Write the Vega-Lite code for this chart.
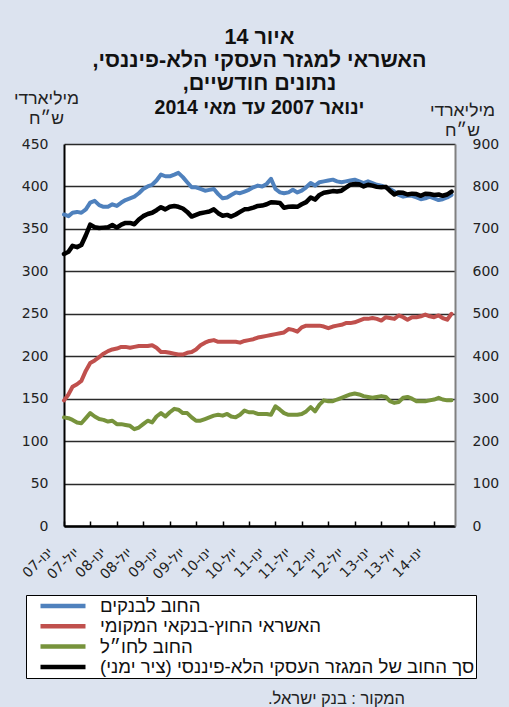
{
  "$schema": "https://vega.github.io/schema/vega-lite/v6.json",
  "width": 391,
  "height": 382,
  "autosize": {"type": "none"},
  "padding": {"left": 64, "top": 144, "right": 54, "bottom": 181},
  "background": "#dce3ef",
  "view": {"fill": "white", "stroke": null},
  "title": {
    "text": ["איור 14", "האשראי למגזר העסקי הלא-פיננסי,\u200f", "נתונים חודשיים,\u200f"],
    "subtitle": "ינואר 2007 עד מאי 2014",
    "font": "Liberation Sans",
    "fontSize": 21.5,
    "fontWeight": "bold",
    "lineHeight": 23,
    "subtitleFont": "Liberation Sans",
    "subtitleFontSize": 19.5,
    "subtitleFontWeight": "bold",
    "subtitleColor": "#111111",
    "subtitleLineHeight": 23,
    "subtitlePadding": 4,
    "offset": -28,
    "color": "#111111",
    "anchor": "middle"
  },
  "config": {
    "axis": {
      "labelFont": "DejaVu Sans",
      "labelFontSize": 14,
      "labelColor": "#222222",
      "titleFont": "Liberation Sans",
      "titleFontWeight": "normal",
      "titleFontSize": 17.5,
      "titleColor": "#222222"
    }
  },
  "data": {
    "values": [
      {"d": "2007-01-01", "b": 367, "r": 148, "g": 128, "t": 641},
      {"d": "2007-02-01", "b": 365, "r": 155, "g": 127, "t": 646},
      {"d": "2007-03-01", "b": 369, "r": 164, "g": 125, "t": 660},
      {"d": "2007-04-01", "b": 370, "r": 167, "g": 122, "t": 657},
      {"d": "2007-05-01", "b": 369, "r": 171, "g": 121, "t": 662},
      {"d": "2007-06-01", "b": 373, "r": 183, "g": 127, "t": 685},
      {"d": "2007-07-01", "b": 381, "r": 192, "g": 133, "t": 710},
      {"d": "2007-08-01", "b": 383, "r": 195, "g": 129, "t": 704},
      {"d": "2007-09-01", "b": 378, "r": 199, "g": 126, "t": 702},
      {"d": "2007-10-01", "b": 376, "r": 203, "g": 125, "t": 703},
      {"d": "2007-11-01", "b": 376, "r": 206, "g": 123, "t": 704},
      {"d": "2007-12-01", "b": 379, "r": 208, "g": 124, "t": 709},
      {"d": "2008-01-01", "b": 377, "r": 209, "g": 120, "t": 703},
      {"d": "2008-02-01", "b": 381, "r": 211, "g": 120, "t": 710},
      {"d": "2008-03-01", "b": 384, "r": 211, "g": 119, "t": 714},
      {"d": "2008-04-01", "b": 386, "r": 210, "g": 118, "t": 714},
      {"d": "2008-05-01", "b": 388, "r": 211, "g": 114, "t": 711},
      {"d": "2008-06-01", "b": 392, "r": 212, "g": 116, "t": 722},
      {"d": "2008-07-01", "b": 397, "r": 212, "g": 120, "t": 730},
      {"d": "2008-08-01", "b": 400, "r": 212, "g": 124, "t": 735},
      {"d": "2008-09-01", "b": 402, "r": 213, "g": 122, "t": 738},
      {"d": "2008-10-01", "b": 407, "r": 210, "g": 129, "t": 744},
      {"d": "2008-11-01", "b": 414, "r": 205, "g": 133, "t": 751},
      {"d": "2008-12-01", "b": 412, "r": 205, "g": 129, "t": 746},
      {"d": "2009-01-01", "b": 412, "r": 204, "g": 134, "t": 752},
      {"d": "2009-02-01", "b": 414, "r": 203, "g": 138, "t": 754},
      {"d": "2009-03-01", "b": 416, "r": 202, "g": 137, "t": 752},
      {"d": "2009-04-01", "b": 411, "r": 202, "g": 133, "t": 748},
      {"d": "2009-05-01", "b": 405, "r": 204, "g": 133, "t": 740},
      {"d": "2009-06-01", "b": 399, "r": 205, "g": 128, "t": 729},
      {"d": "2009-07-01", "b": 399, "r": 208, "g": 124, "t": 733},
      {"d": "2009-08-01", "b": 397, "r": 213, "g": 124, "t": 737},
      {"d": "2009-09-01", "b": 395, "r": 216, "g": 126, "t": 739},
      {"d": "2009-10-01", "b": 396, "r": 218, "g": 128, "t": 741},
      {"d": "2009-11-01", "b": 397, "r": 219, "g": 130, "t": 746},
      {"d": "2009-12-01", "b": 391, "r": 217, "g": 131, "t": 737},
      {"d": "2010-01-01", "b": 386, "r": 217, "g": 130, "t": 731},
      {"d": "2010-02-01", "b": 387, "r": 217, "g": 132, "t": 733},
      {"d": "2010-03-01", "b": 390, "r": 217, "g": 129, "t": 729},
      {"d": "2010-04-01", "b": 393, "r": 217, "g": 128, "t": 734},
      {"d": "2010-05-01", "b": 392, "r": 216, "g": 131, "t": 740},
      {"d": "2010-06-01", "b": 394, "r": 218, "g": 136, "t": 746},
      {"d": "2010-07-01", "b": 396, "r": 219, "g": 134, "t": 747},
      {"d": "2010-08-01", "b": 399, "r": 220, "g": 134, "t": 750},
      {"d": "2010-09-01", "b": 401, "r": 222, "g": 132, "t": 754},
      {"d": "2010-10-01", "b": 400, "r": 223, "g": 132, "t": 755},
      {"d": "2010-11-01", "b": 403, "r": 224, "g": 132, "t": 758},
      {"d": "2010-12-01", "b": 409, "r": 225, "g": 131, "t": 763},
      {"d": "2011-01-01", "b": 397, "r": 226, "g": 141, "t": 762},
      {"d": "2011-02-01", "b": 393, "r": 227, "g": 137, "t": 761},
      {"d": "2011-03-01", "b": 392, "r": 228, "g": 133, "t": 750},
      {"d": "2011-04-01", "b": 393, "r": 232, "g": 131, "t": 752},
      {"d": "2011-05-01", "b": 396, "r": 231, "g": 131, "t": 753},
      {"d": "2011-06-01", "b": 393, "r": 229, "g": 131, "t": 752},
      {"d": "2011-07-01", "b": 395, "r": 234, "g": 132, "t": 758},
      {"d": "2011-08-01", "b": 399, "r": 236, "g": 135, "t": 763},
      {"d": "2011-09-01", "b": 404, "r": 236, "g": 140, "t": 774},
      {"d": "2011-10-01", "b": 401, "r": 236, "g": 135, "t": 769},
      {"d": "2011-11-01", "b": 405, "r": 236, "g": 143, "t": 780},
      {"d": "2011-12-01", "b": 406, "r": 235, "g": 148, "t": 785},
      {"d": "2012-01-01", "b": 407, "r": 233, "g": 147, "t": 787},
      {"d": "2012-02-01", "b": 408, "r": 235, "g": 147, "t": 789},
      {"d": "2012-03-01", "b": 406, "r": 236, "g": 149, "t": 788},
      {"d": "2012-04-01", "b": 405, "r": 237, "g": 151, "t": 790},
      {"d": "2012-05-01", "b": 406, "r": 239, "g": 153, "t": 797},
      {"d": "2012-06-01", "b": 407, "r": 239, "g": 155, "t": 804},
      {"d": "2012-07-01", "b": 408, "r": 240, "g": 156, "t": 806},
      {"d": "2012-08-01", "b": 406, "r": 242, "g": 155, "t": 805},
      {"d": "2012-09-01", "b": 404, "r": 244, "g": 153, "t": 800},
      {"d": "2012-10-01", "b": 406, "r": 244, "g": 152, "t": 804},
      {"d": "2012-11-01", "b": 404, "r": 245, "g": 151, "t": 802},
      {"d": "2012-12-01", "b": 402, "r": 244, "g": 152, "t": 799},
      {"d": "2013-01-01", "b": 401, "r": 242, "g": 153, "t": 798},
      {"d": "2013-02-01", "b": 399, "r": 246, "g": 152, "t": 799},
      {"d": "2013-03-01", "b": 397, "r": 245, "g": 147, "t": 790},
      {"d": "2013-04-01", "b": 394, "r": 244, "g": 145, "t": 781},
      {"d": "2013-05-01", "b": 390, "r": 248, "g": 146, "t": 786},
      {"d": "2013-06-01", "b": 388, "r": 246, "g": 151, "t": 785},
      {"d": "2013-07-01", "b": 389, "r": 243, "g": 152, "t": 781},
      {"d": "2013-08-01", "b": 389, "r": 246, "g": 150, "t": 783},
      {"d": "2013-09-01", "b": 387, "r": 246, "g": 147, "t": 782},
      {"d": "2013-10-01", "b": 385, "r": 247, "g": 147, "t": 778},
      {"d": "2013-11-01", "b": 386, "r": 249, "g": 147, "t": 783},
      {"d": "2013-12-01", "b": 388, "r": 247, "g": 148, "t": 782},
      {"d": "2014-01-01", "b": 386, "r": 246, "g": 149, "t": 780},
      {"d": "2014-02-01", "b": 384, "r": 248, "g": 151, "t": 781},
      {"d": "2014-03-01", "b": 385, "r": 245, "g": 149, "t": 778},
      {"d": "2014-04-01", "b": 387, "r": 243, "g": 148, "t": 781},
      {"d": "2014-05-01", "b": 390, "r": 250, "g": 148, "t": 788}
    ]
  },
  "encoding": {
    "x": {
      "field": "d",
      "type": "temporal",
      "scale": {
        "type": "utc",
        "domain": [
          {"year": 2007, "month": 1, "date": 1, "utc": true},
          {"year": 2014, "month": 5, "date": 25, "utc": true}
        ]
      },
      "axis": {
        "orient": "bottom",
        "values": [
          {"year": 2007, "month": 1, "date": 1, "utc": true},
          {"year": 2007, "month": 7, "date": 1, "utc": true},
          {"year": 2008, "month": 1, "date": 1, "utc": true},
          {"year": 2008, "month": 7, "date": 1, "utc": true},
          {"year": 2009, "month": 1, "date": 1, "utc": true},
          {"year": 2009, "month": 7, "date": 1, "utc": true},
          {"year": 2010, "month": 1, "date": 1, "utc": true},
          {"year": 2010, "month": 7, "date": 1, "utc": true},
          {"year": 2011, "month": 1, "date": 1, "utc": true},
          {"year": 2011, "month": 7, "date": 1, "utc": true},
          {"year": 2012, "month": 1, "date": 1, "utc": true},
          {"year": 2012, "month": 7, "date": 1, "utc": true},
          {"year": 2013, "month": 1, "date": 1, "utc": true},
          {"year": 2013, "month": 7, "date": 1, "utc": true},
          {"year": 2014, "month": 1, "date": 1, "utc": true}
        ],
        "labelExpr": "(utcFormat(datum.value, '%m') == '01' ? 'ינו' : 'יול') + '-' + utcFormat(datum.value, '%y')",
        "grid": false,
        "domainColor": "#000000",
        "domainWidth": 2.5,
        "ticks": true,
        "tickColor": "#000000",
        "tickWidth": 1.5,
        "tickSize": -5,
        "labelAngle": -45,
        "labelAlign": "right",
        "labelBaseline": "middle",
        "labelPadding": 29,
        "labelOffset": -14,
        "labelFontSize": 14,
        "labelFlush": false,
        "labelOverlap": false,
        "title": "המקור : בנק ישראל.\u200f",
        "titleX": 272,
        "titleY": 172,
        "titleAlign": "center",
        "titleBaseline": "middle",
        "titleAngle": 0,
        "titleFontSize": 16.5
      }
    }
  },
  "layer": [
    {
      "transform": [{"fold": ["b", "r", "g"], "as": ["s", "v"]}],
      "mark": {"type": "line", "strokeWidth": 4, "strokeJoin": "round", "strokeCap": "round"},
      "encoding": {
        "y": {
          "field": "v",
          "type": "quantitative",
          "scale": {"domain": [0, 450], "nice": false},
          "axis": {
            "orient": "left",
            "values": [0, 50, 100, 150, 200, 250, 300, 350, 400, 450],
            "grid": true,
            "gridColor": "#2a2a2a",
            "gridWidth": 1.5,
            "domainColor": "#000000",
            "domainWidth": 2,
            "ticks": false,
            "labelPadding": 16,
            "title": ["מיליארדי", "ש״ח"],
            "titleAngle": 0,
            "titleX": -18,
            "titleY": -55,
            "titleAlign": "center",
            "titleBaseline": "top",
            "titleLineHeight": 20
          }
        },
        "color": {
          "field": "s",
          "type": "nominal",
          "scale": {"domain": ["b", "r", "g", "t"], "range": ["#4f81bd", "#c0504d", "#77933c", "#000000"]},
          "legend": {
            "orient": "none",
            "legendX": -38,
            "legendY": 451,
            "title": null,
            "direction": "vertical",
            "symbolType": "stroke",
            "symbolSize": 2025,
            "symbolStrokeWidth": 4.5,
            "symbolOffset": 11,
            "clipHeight": 20,
            "rowPadding": 0.3,
            "padding": 1,
            "labelOffset": 12,
            "labelFont": "Liberation Sans",
            "labelFontSize": 18.6,
            "labelColor": "#111111",
            "labelLimit": 0,
            "fillColor": "white",
            "strokeColor": "black",
            "labelExpr": "datum.label == 'b' ? 'החוב לבנקים' : datum.label == 'r' ? 'האשראי החוץ-בנקאי המקומי' : datum.label == 'g' ? 'החוב לחו״ל' : 'סך החוב של המגזר העסקי הלא-פיננסי (ציר ימני)'"
          }
        }
      }
    },
    {
      "transform": [{"fold": ["t"], "as": ["s", "v"]}],
      "mark": {"type": "line", "strokeWidth": 4.5, "strokeJoin": "round", "strokeCap": "round"},
      "encoding": {
        "y": {
          "field": "v",
          "type": "quantitative",
          "scale": {"domain": [0, 900], "nice": false},
          "axis": {
            "orient": "right",
            "values": [0, 100, 200, 300, 400, 500, 600, 700, 800, 900],
            "grid": false,
            "domainColor": "#808080",
            "domainWidth": 2,
            "ticks": false,
            "labelPadding": 17,
            "title": ["מיליארדי", "ש״ח"],
            "titleAngle": 0,
            "titleX": 7,
            "titleY": -43,
            "titleAlign": "center",
            "titleBaseline": "top",
            "titleLineHeight": 20
          }
        },
        "color": {
          "field": "s",
          "type": "nominal",
          "scale": {"domain": ["b", "r", "g", "t"], "range": ["#4f81bd", "#c0504d", "#77933c", "#000000"]}
        }
      }
    }
  ],
  "resolve": {"scale": {"y": "independent"}}
}
